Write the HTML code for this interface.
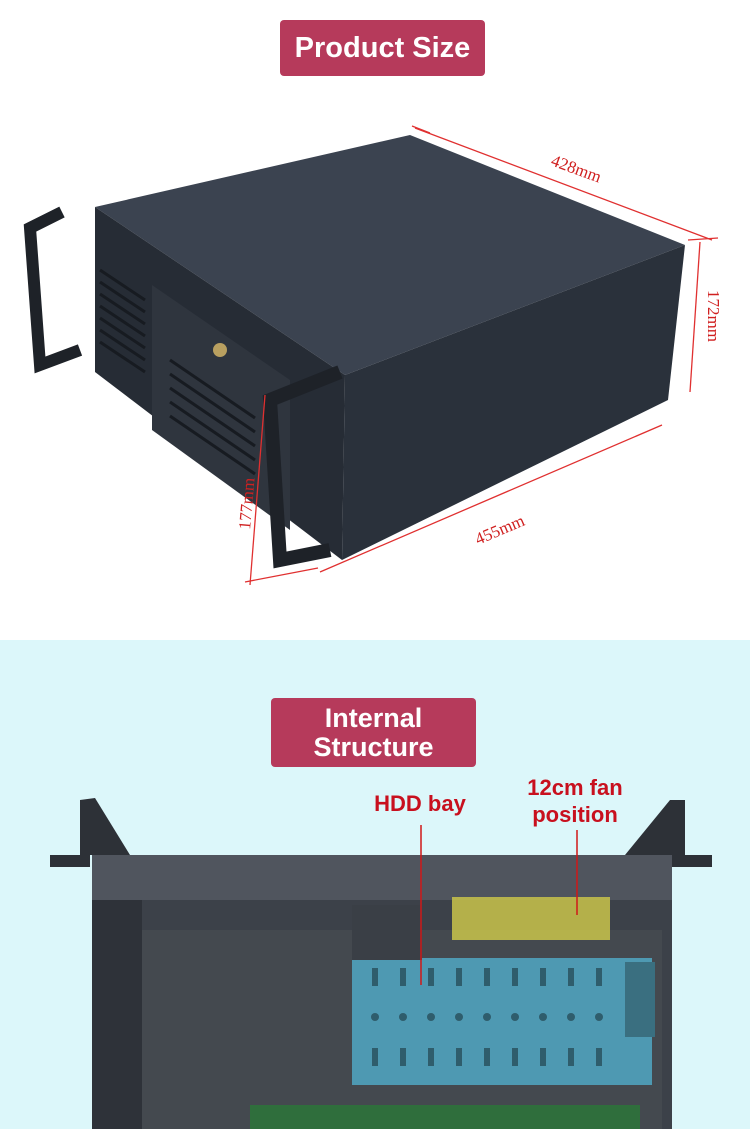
<!DOCTYPE html>
<html><head><meta charset="utf-8"><style>
body{margin:0;width:750px;height:1129px;overflow:hidden;font-family:"Liberation Sans",sans-serif;background:#fff;position:relative}
.badge{position:absolute;background:#b63a5b;color:#fff;font-weight:bold;text-align:center;border-radius:4px}
.lbl{position:absolute;color:#c8101e;font-weight:bold;font-size:22px;text-align:center;line-height:27px}
</style></head><body>
<div style="position:absolute;left:0;top:640px;width:750px;height:489px;background:#dcf7fa"></div>
<div class="badge" style="left:280px;top:20px;width:205px;height:56px;font-size:29px;line-height:56px">Product Size</div>
<div class="badge" style="left:271px;top:698px;width:205px;height:69px;font-size:27px;line-height:29px;padding-top:6px;box-sizing:border-box">Internal<br>Structure</div>
<svg width="750" height="1129" style="position:absolute;left:0;top:0">
<polygon points="95,207 410,135 685,245 345,375" fill="#3b4350"/>
<polygon points="345,375 685,245 668,400 342,560" fill="#2a313b"/>
<polygon points="95,207 345,375 342,560 95,372" fill="#262c35"/>
<polygon points="152,285 290,380 290,530 152,430" fill="#2f353e"/>
<g stroke="#171b21" stroke-width="3">
<line x1="100" y1="270" x2="145" y2="300"/><line x1="100" y1="282" x2="145" y2="312"/><line x1="100" y1="294" x2="145" y2="324"/><line x1="100" y1="306" x2="145" y2="336"/><line x1="100" y1="318" x2="145" y2="348"/><line x1="100" y1="330" x2="145" y2="360"/><line x1="100" y1="342" x2="145" y2="372"/>
<line x1="170" y1="360" x2="255" y2="418"/><line x1="170" y1="374" x2="255" y2="432"/><line x1="170" y1="388" x2="255" y2="446"/><line x1="170" y1="402" x2="255" y2="460"/><line x1="170" y1="416" x2="255" y2="474"/>
</g>
<circle cx="220" cy="350" r="7" fill="#b9a060"/>
<path d="M62,212 L30,228 L40,365 L80,350" fill="none" stroke="#1e2228" stroke-width="12"/>
<path d="M340,372 L270,400 L280,560 L330,550" fill="none" stroke="#1e2228" stroke-width="14"/>
<g stroke="#e03030" stroke-width="1.3" fill="none">
<line x1="415" y1="128" x2="712" y2="240"/><line x1="412" y1="126" x2="430" y2="133"/>
<line x1="700" y1="242" x2="690" y2="392"/><line x1="688" y1="240" x2="718" y2="238"/>
<line x1="320" y1="572" x2="662" y2="425"/>
<line x1="265" y1="395" x2="250" y2="585"/><line x1="245" y1="582" x2="318" y2="568"/>
</g>
<g fill="#d02020" font-family="Liberation Serif" font-size="17">
<text x="550" y="165" transform="rotate(20 550 165)">428mm</text>
<text x="708" y="290" transform="rotate(90 708 290)">172mm</text>
<text x="478" y="545" transform="rotate(-23 478 545)">455mm</text>
<text x="250" y="530" transform="rotate(-85 250 530)">177mm</text>
</g>
<rect x="92" y="855" width="580" height="274" fill="#3c4149"/>
<rect x="92" y="855" width="580" height="45" fill="#50555e"/>
<rect x="92" y="900" width="50" height="229" fill="#2e3239"/>
<rect x="142" y="930" width="520" height="199" fill="#44494f"/>
<polygon points="80,800 95,798 130,855 80,855" fill="#2d3137"/>
<polygon points="670,800 685,800 685,855 625,855" fill="#2d3137"/>
<rect x="50" y="855" width="40" height="12" fill="#2d3137"/>
<rect x="672" y="855" width="40" height="12" fill="#2d3137"/>
<rect x="452" y="897" width="158" height="43" fill="#c9c44a" opacity=".85"/>
<rect x="352" y="958" width="300" height="127" fill="#4e99b2"/>
<rect x="625" y="962" width="30" height="75" fill="#3a6f80"/>
<g fill="#2f5d6c"><rect x="372" y="968" width="6" height="18"/><rect x="400" y="968" width="6" height="18"/><rect x="428" y="968" width="6" height="18"/><rect x="456" y="968" width="6" height="18"/><rect x="484" y="968" width="6" height="18"/><rect x="512" y="968" width="6" height="18"/><rect x="540" y="968" width="6" height="18"/><rect x="568" y="968" width="6" height="18"/><rect x="596" y="968" width="6" height="18"/>
<rect x="372" y="1048" width="6" height="18"/><rect x="400" y="1048" width="6" height="18"/><rect x="428" y="1048" width="6" height="18"/><rect x="456" y="1048" width="6" height="18"/><rect x="484" y="1048" width="6" height="18"/><rect x="512" y="1048" width="6" height="18"/><rect x="540" y="1048" width="6" height="18"/><rect x="568" y="1048" width="6" height="18"/><rect x="596" y="1048" width="6" height="18"/></g>
<g fill="#2f5d6c"><circle cx="375" cy="1017" r="4"/><circle cx="403" cy="1017" r="4"/><circle cx="431" cy="1017" r="4"/><circle cx="459" cy="1017" r="4"/><circle cx="487" cy="1017" r="4"/><circle cx="515" cy="1017" r="4"/><circle cx="543" cy="1017" r="4"/><circle cx="571" cy="1017" r="4"/><circle cx="599" cy="1017" r="4"/></g>
<rect x="250" y="1105" width="390" height="24" fill="#2f6e3c"/>
<rect x="352" y="905" width="70" height="55" fill="#3a3f46"/>
<line x1="421" y1="825" x2="421" y2="985" stroke="#d01818" stroke-width="1.5"/>
<line x1="577" y1="830" x2="577" y2="915" stroke="#d01818" stroke-width="1.5"/>
</svg>
<div class="lbl" style="left:360px;top:790px;width:120px">HDD bay</div>
<div class="lbl" style="left:510px;top:774px;width:130px">12cm fan<br>position</div>
</body></html>
